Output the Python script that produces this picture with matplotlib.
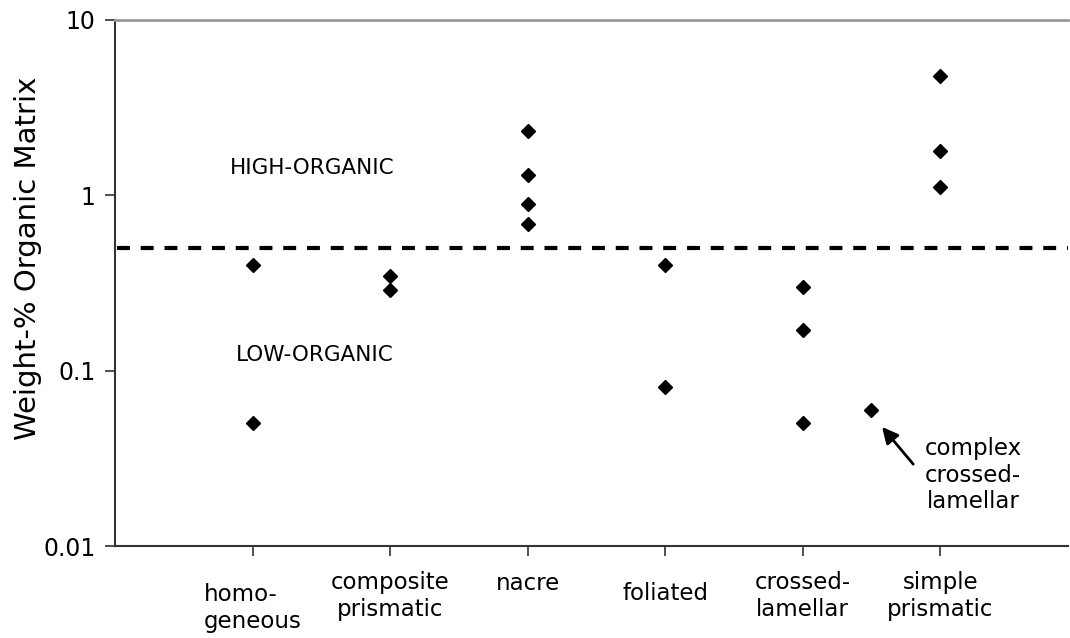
import numpy as np
import matplotlib.pyplot as plt

# categories on the x axis (positions 1..6), plus the extra point at 5.5
categorias = ["homo-\ngeneous", "composite\nprismatic", "nacre", "foliated",
              "crossed-\nlamellar", "simple\nprismatic"]
# centre of each category label, in pixels from the top of the figure
label_y_px = [608, 596, 583, 594, 596, 596]

x_pos = [1, 1, 2, 2, 3, 3, 3, 3, 4, 4, 5, 5, 5, 5.5, 6, 6, 6]
organico = [0.40, 0.05,
            0.345, 0.29,
            2.33, 1.31, 0.89, 0.69,
            0.40, 0.081,
            0.30, 0.17, 0.05,
            0.06,
            4.8, 1.79, 1.11]

limite = 0.5  # boundary between high- and low-organic

W, H = 1070, 638
fig = plt.figure(figsize=(W / 100, H / 100), dpi=100)
ax = fig.add_axes([0.1075, 0.1442, 0.8907, 0.8245])

ax.set_yscale('log')
ax.set_ylim(0.01, 10)
ax.set_xlim(0, 6.93)
ax.set_yticks([0.01, 0.1, 1, 10])
ax.set_yticklabels(['0.01', '0.1', '1', '10'])
ax.minorticks_off()
ax.tick_params(axis='y', labelsize=17, length=7, width=1.2, color='#333333', pad=7)
ax.set_xticks(range(1, 7))
ax.set_xticklabels([])
ax.tick_params(axis='x', length=7, width=1.2, color='#333333')

ax.spines['right'].set_visible(False)
ax.spines['top'].set_color('#999999')
ax.spines['top'].set_linewidth(2)
for s in ['left', 'bottom']:
    ax.spines[s].set_color('#333333')
    ax.spines[s].set_linewidth(1.5)

fig.text(28 / W, 1 - 258 / H, 'Weight-% Organic Matrix', fontsize=21,
         rotation=90, ha='center', va='center')

ax.axhline(limite, xmin=0.002, xmax=1.0, color='black', linewidth=3, dashes=(3.1, 2.6))

ax.plot(x_pos, organico, linestyle='none', marker='D', markersize=7.5,
        color='black', zorder=3)

# category labels under the axis
for i, (lab, ypx) in enumerate(zip(categorias, label_y_px)):
    xf = ax.transData.transform((i + 1, 1))[0] / W
    fig.text(xf, 1 - ypx / H, lab, ha='center', va='center', fontsize=16.5,
             linespacing=1.2, multialignment='left' if i == 0 else 'center')

ax.text(0.836, 1.43, 'HIGH-ORGANIC', fontsize=15.5, ha='left', va='center')
ax.text(0.88, 0.123, 'LOW-ORGANIC', fontsize=15.5, ha='left', va='center')

ax.text(6.24, 0.0254, 'complex\ncrossed-\nlamellar', fontsize=16.5,
        ha='center', va='center', linespacing=1.2)
ax.annotate('', xy=(5.578, 0.0477), xytext=(5.804, 0.0293),
            arrowprops=dict(arrowstyle='-|>', color='black', lw=2,
                            mutation_scale=24, shrinkA=0, shrinkB=0))

fig.savefig('out.png', dpi=100)
